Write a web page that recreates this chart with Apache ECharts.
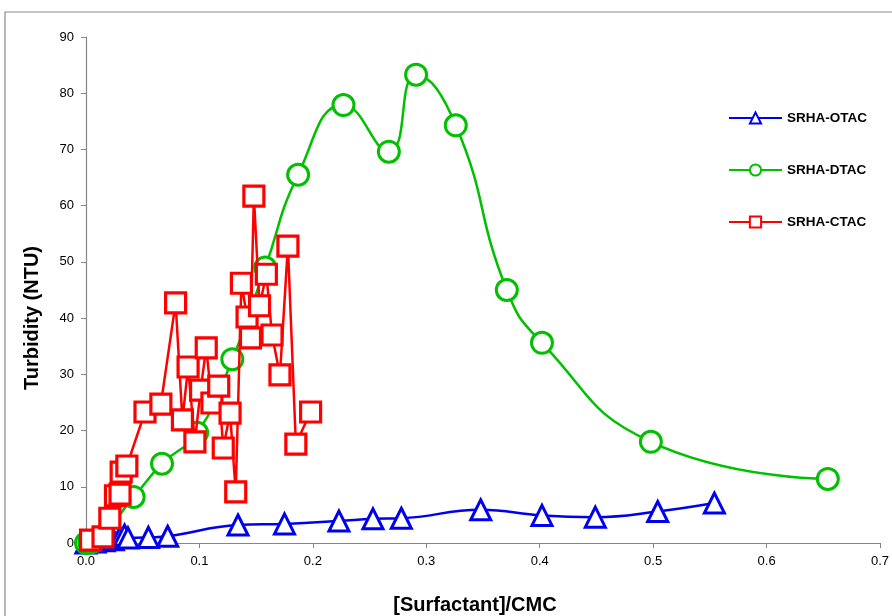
<!DOCTYPE html>
<html>
<head>
<meta charset="utf-8">
<script src="https://cdn.jsdelivr.net/npm/echarts@6/dist/echarts.min.js"></script>
<style>html,body{margin:0;padding:0;background:#fff}#c{width:892px;height:616px}</style>
</head>
<body>
<div id="c"></div>
<script>
// ---- data ----
const otacX = [0, 0.008, 0.016, 0.024, 0.030, 0.034, 0.037, 0.055, 0.072, 0.134, 0.175, 0.223, 0.253, 0.278, 0.348, 0.402, 0.449, 0.504, 0.554];
const otacY = [0, 0.2, 0.4, 0.6, 1.0, 1.4, 0.9, 1.0, 1.2, 3.2, 3.4, 3.9, 4.3, 4.4, 5.9, 4.9, 4.6, 5.6, 7.1];

const dtacX = [0, 0.003, 0.006, 0.042, 0.067, 0.098, 0.129, 0.158, 0.187, 0.227, 0.267, 0.291, 0.326, 0.371, 0.402, 0.498, 0.654];
const dtacY = [0, 0.1, 0.2, 8.2, 14.1, 19.6, 32.7, 49.0, 65.5, 77.9, 69.6, 83.3, 74.3, 45.0, 35.6, 18.0, 11.4];

const ctacX = [0.004, 0.015, 0.021, 0.026, 0.030, 0.031, 0.036, 0.052, 0.066, 0.079, 0.085, 0.090, 0.096, 0.101, 0.106, 0.111, 0.117, 0.121, 0.127, 0.132, 0.137, 0.142, 0.145, 0.148, 0.153, 0.159, 0.164, 0.171, 0.178, 0.185, 0.198];
const ctacY = [0.5, 1.1, 4.4, 8.4, 8.7, 12.6, 13.7, 23.3, 24.7, 42.7, 21.9, 31.3, 18.0, 27.2, 34.7, 24.9, 27.9, 16.9, 23.1, 9.1, 46.2, 40.2, 36.5, 61.7, 42.2, 47.8, 37.0, 29.9, 52.8, 17.6, 23.3];

const seriesNames = ['SRHA-OTAC', 'SRHA-DTAC', 'SRHA-CTAC'];
const xTitle = '[Surfactant]/CMC';
const yTitle = 'Turbidity (NTU)';

const zip = (xs, ys) => xs.map((x, i) => [x, ys[i]]);

const chart = echarts.init(document.getElementById('c'));
const axisFont = {fontFamily: 'Liberation Sans', fontSize: 13, color: '#000'};
const titleFont = 'bold 20px "Liberation Sans"';
chart.setOption({
  animation: false,
  backgroundColor: '#fff',
  graphic: [
    {
      type: 'rect', shape: {x: 5, y: 12, width: 900, height: 640},
      style: {fill: 'none', stroke: '#8a8a8a', lineWidth: 1.2}, silent: true, z: -1
    },
    {
      type: 'text', x: 475, y: 605, silent: true,
      style: {text: xTitle, font: titleFont, fill: '#000', textAlign: 'center', textVerticalAlign: 'middle'}
    },
    {
      type: 'text', x: 32, y: 318, rotation: Math.PI / 2, silent: true,
      style: {text: yTitle, font: titleFont, fill: '#000', textAlign: 'center', textVerticalAlign: 'middle'}
    }
  ],
  grid: {left: 86, right: 12, top: 37, bottom: 73, containLabel: false, outerBoundsMode: 'none'},
  legend: {
    orient: 'vertical', left: 723, top: 106, itemGap: 38,
    itemWidth: 53, itemHeight: 14,
    textStyle: {fontFamily: 'Liberation Sans', fontSize: 13.5, fontWeight: 'bold', color: '#000'},
    data: seriesNames
  },
  xAxis: {
    type: 'value', min: 0, max: 0.7, interval: 0.1,
    axisLine: {show: true, onZero: false, lineStyle: {color: '#868686', width: 1.2}},
    axisTick: {show: true, length: 5, lineStyle: {color: '#868686'}},
    axisLabel: Object.assign({margin: 12, formatter: v => v.toFixed(1)}, axisFont),
    splitLine: {show: false}
  },
  yAxis: {
    type: 'value', min: 0, max: 90, interval: 10,
    axisLine: {show: true, lineStyle: {color: '#868686', width: 1.2}},
    axisTick: {show: true, length: 5, lineStyle: {color: '#868686'}},
    axisLabel: Object.assign({margin: 12}, axisFont),
    splitLine: {show: false}
  },
  series: [
    {
      name: seriesNames[0], type: 'line', data: zip(otacX, otacY), smooth: 0.45,
      symbol: 'triangle', symbolSize: 20,
      lineStyle: {color: '#0000F0', width: 2.5},
      itemStyle: {color: '#fff', borderColor: '#0000F0', borderWidth: 3}, z: 2
    },
    {
      name: seriesNames[1], type: 'line', data: zip(dtacX, dtacY), smooth: 0.5,
      symbol: 'circle', symbolSize: 21,
      lineStyle: {color: '#00C000', width: 2.5},
      itemStyle: {color: '#fff', borderColor: '#00C000', borderWidth: 3}, z: 3
    },
    {
      name: seriesNames[2], type: 'line', data: zip(ctacX, ctacY), smooth: false,
      symbol: 'rect', symbolSize: 20,
      lineStyle: {color: '#FF0000', width: 2.5},
      itemStyle: {color: '#fff', borderColor: '#FF0000', borderWidth: 3.2}, z: 4
    }
  ]
});
</script>
</body>
</html>
